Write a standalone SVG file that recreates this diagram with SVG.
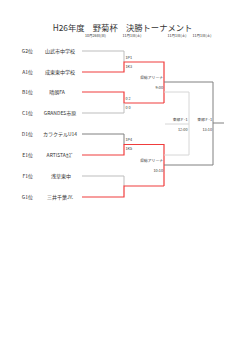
<svg xmlns="http://www.w3.org/2000/svg" width="250" height="353" viewBox="0 0 250 353">
<style>
text{font-family:"Noto Sans CJK JP","Noto Sans",sans-serif;fill:#333}
.t{font-size:8.3px}
.d{font-size:3.6px}
.r{font-size:5px;text-anchor:end}
.n{font-size:5px;text-anchor:middle}
.s{font-size:3.8px}
.v{font-size:3.8px;text-anchor:end}
.red{stroke:#f03c3c;stroke-width:1.2;fill:none}
.lg{stroke:#bdbdbd;stroke-width:1;fill:none}
.dg{stroke:#808080;stroke-width:1;fill:none}
.xl{stroke:#d6d6d6;stroke-width:1;fill:none}
</style>
<rect width="250" height="353" fill="#fff"/>
<g id="title">
<text class="t" x="122.5" y="31" text-anchor="middle">H26年度　野菊杯　決勝トーナメント</text>
<text class="d" x="95.5" y="37" text-anchor="middle">10月26日(日)</text>
<text class="d" x="132" y="37" text-anchor="middle">11月1日(土)</text>
<text class="d" x="177" y="37" text-anchor="middle">11月1日(土)</text>
<text class="d" x="202" y="37" text-anchor="middle">11月1日(土)</text>
</g>
<g id="team-g2"><text class="r" x="33" y="53">G2位</text><text class="n" x="60" y="53">山武市中学校</text></g>
<g id="team-a1"><text class="r" x="33" y="74">A1位</text><text class="n" x="60" y="74">成東東中学校</text></g>
<g id="team-b1"><text class="r" x="33" y="94">B1位</text><text class="n" x="57" y="94">晴朗FA</text></g>
<g id="team-c1"><text class="r" x="33" y="115">C1位</text><text class="n" x="60" y="115">GRANDES市原</text></g>
<g id="team-d1"><text class="r" x="33" y="136">D1位</text><text class="n" x="60" y="136">カラクテルU14</text></g>
<g id="team-e1"><text class="r" x="33" y="157">E1位</text><text class="n" x="60" y="157">ARTISTAｶｽﾞ</text></g>
<g id="team-f1"><text class="r" x="33" y="178">F1位</text><text class="n" x="61" y="178">浅草東中</text></g>
<g id="team-g1"><text class="r" x="33" y="199">G1位</text><text class="n" x="60" y="199">三井千葉JY.</text></g>
<g id="connectors">
<polyline class="lg" points="82,51 124,51 124,62"/>
<polyline class="red" points="82,72 124,72 124,62 164,62 164,103"/>
<polyline class="red" points="82,92 124,92 124,103 164,103"/>
<polyline class="lg" points="82,113 124,113 124,103"/>
<polyline class="dg" points="82,134 124,134 124,144.5"/>
<polyline class="red" points="82,155 124,155 124,144.5 164,144.5 164,186"/>
<polyline class="lg" points="82,176 124,176 124,186"/>
<polyline class="red" points="82,197 124,197 124,186 164,186"/>
<polyline class="dg" points="164,82 213,82 213,165 164,165"/>
<polyline class="xl" points="164,92 189,92 189,155 164,155"/>
<line class="xl" x1="165" y1="124" x2="189" y2="124"/>
<line class="dg" x1="213" y1="123" x2="224" y2="123"/>
</g>
<g id="labels">
<text class="s" x="125.5" y="59">1P1</text>
<text class="s" x="125.5" y="67.5">1K3</text>
<text class="s" x="125.5" y="99.5">0 2</text>
<text class="s" x="125.5" y="109">0 0</text>
<text class="s" x="125.5" y="141">1P4</text>
<text class="s" x="125.5" y="150">1K5</text>
<text class="v" x="163" y="78.5">県総アリーナ</text>
<text class="v" x="163" y="88.5">9:00</text>
<text class="v" x="163" y="161.5">県総アリーナ</text>
<text class="v" x="163" y="172">10:10</text>
<text class="v" x="187.5" y="120.5">東部Ｆ-1</text>
<text class="v" x="187.5" y="130.5">12:00</text>
<text class="v" x="212" y="120.5">東部Ｆ-1</text>
<text class="v" x="212" y="130.5">13:10</text>
</g>
</svg>
